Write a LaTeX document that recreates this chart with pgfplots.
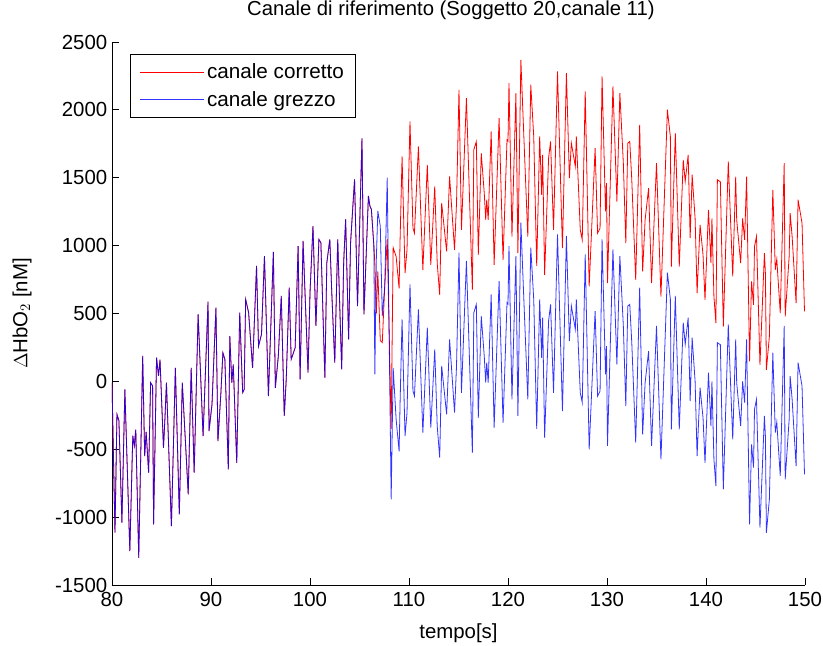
\documentclass[border=0pt]{standalone}
\usepackage{fontspec}
\setmainfont{Liberation Sans}
\usepackage{pgfplots}
\usepackage{pgfplotstable}
\pgfplotsset{compat=1.18}
\pgfplotstableread{
t b r
80.0 -10 -10
80.3 -1115 -1115
80.5 -243 -243
80.7 -290 -290
81.0 -1040 -1040
81.3 -60 -60
81.8 -1250 -1250
82.1 -400 -400
82.25 -475 -475
82.4 -355 -355
82.7 -1300 -1300
83.1 187 187
83.3 -550 -550
83.45 -373 -373
83.7 -673 -673
83.9 -10 -10
84.1 -34 -34
84.2 -1054 -1054
84.5 174 174
84.7 40 40
84.85 160 160
85.2 -490 -490
85.35 -268 -268
85.5 -10 -10
86.0 -1066 -1066
86.4 100 100
86.8 -980 -980
87.1 -10 -10
87.7 -832 -832
88.0 100 100
88.3 -673 -673
88.7 494 494
89.2 -403 -403
89.7 587 587
89.8 -366 -366
90.1 -170 -170
90.5 543 543
90.7 -440 -440
91.0 -84 -84
91.2 211 211
91.4 162 162
91.75 -648 -648
91.9 334 334
92.1 -10 -10
92.25 125 125
92.6 -600 -600
92.9 506 506
93.2 -83 -83
93.35 -59 -59
93.5 604 604
93.8 506 506
94.2 100 100
94.6 850 850
94.8 260 260
95.1 346 346
95.4 923 923
95.8 -108 -108
96.3 953 953
96.5 -47 -47
96.8 187 187
97.1 629 629
97.4 -255 -255
97.6 15 15
97.9 690 690
98.1 162 162
98.5 248 248
98.8 997 997
99.0 15 15
99.3 1034 1034
99.8 64 64
100.0 653 653
100.3 1144 1144
100.6 408 408
100.9 1046 1046
101.1 1020 1020
101.5 27 27
101.7 874 874
102.0 1046 1046
102.2 653 653
102.5 138 138
102.8 1046 1046
103.2 88 88
103.4 874 874
103.6 1194 1194
103.9 309 309
104.1 1022 1022
104.5 1488 1488
104.8 555 555
105.25 1790 1790
105.45 494 494
105.9 1366 1366
106.05 1292 1292
106.2 1267 1267
106.45 1000 1000
106.55 52 870
106.7 900 500
106.85 1255 810
107.1 1144 300
107.3 481 285
107.55 702 700
107.8 1500 1050
108.2 -870 -350
108.4 100 985
108.7 -280 920
109.0 -515 685
109.1 -157 1043
109.3 457 1657
109.6 -403 797
109.8 -231 969
110.1 715 1915
110.4 -71 1129
110.55 -108 1092
110.95 530 1730
111.4 -378 822
111.85 395 1595
112.2 -341 859
112.6 236 1436
112.85 -329 871
113.1 -562 638
113.3 113 1313
113.8 -243 957
114.1 309 1509
114.6 -231 969
114.8 113 1313
115.05 948 2148
115.3 -84 1116
115.8 887 2087
116.4 -525 675
116.55 506 1706
116.8 567 1767
117.0 -268 932
117.3 481 1681
117.6 187 1387
117.75 -10 1190
117.85 138 1338
118.0 -10 1190
118.3 641 1841
118.6 -341 859
119.1 739 1939
119.5 -305 895
119.9 580 1780
120.0 570 1770
120.1 997 2197
120.4 -133 1067
120.8 923 2123
121.0 -255 945
121.3 1169 2369
121.6 604 1804
122.0 -133 1067
122.3 985 2185
122.6 604 1804
122.9 -349 851
123.2 604 1804
123.4 174 1374
123.5 469 1669
123.7 -415 785
124.1 445 1645
124.3 567 1767
124.6 -84 1116
125.0 1083 2283
125.5 -219 981
125.9 1071 2271
126.2 297 1497
126.4 555 1755
126.8 383 1583
126.9 604 1804
127.3 -84 1116
127.5 -157 1043
127.8 936 2136
128.2 -501 699
128.8 518 1718
129.05 -108 1092
129.3 -71 1129
129.5 1046 2246
129.85 52 1252
129.95 260 1460
130.05 -476 724
130.6 973 2173
131.0 125 1325
131.3 923 2123
131.65 408 1608
131.9 -182 1018
132.1 555 1755
132.3 567 1767
132.5 290 1490
132.9 -452 748
133.3 690 1890
133.6 -390 810
133.85 -10 1190
134.2 223 1423
134.5 -476 724
135.0 408 1608
135.45 -575 625
136.1 801 2001
136.4 604 1804
136.5 -354 846
136.9 629 1829
137.3 -354 846
137.7 432 1632
137.9 273 1473
138.2 469 1669
138.4 -145 1055
138.6 322 1522
138.9 0 1200
139.1 -550 650
139.4 -47 1153
139.7 -268 932
139.9 -600 600
140.25 64 1264
140.5 -329 871
140.6 0 1200
140.8 -575 625
141.0 -771 429
141.15 285 1485
141.45 270 1470
141.75 -796 404
142.25 420 1620
142.7 -427 773
143.0 309 1509
143.1 -10 1190
143.5 -329 871
143.7 0 1200
143.9 -157 1043
144.1 309 1509
144.4 -1053 147
144.6 -464 736
144.8 -636 564
144.9 -206 994
145.1 -133 1067
145.45 -1078 122
145.9 -255 945
146.0 -403 797
146.1 -1115 85
146.4 -870 330
146.75 211 1411
147.0 -378 822
147.15 -300 900
147.5 -697 503
147.9 408 1608
148.0 -722 478
148.4 -280 920
148.5 39 1239
148.7 -133 1067
149.1 -624 576
149.3 138 1338
149.7 -34 1166
149.95 -685 515
}\datatab
\begin{document}
\begin{tikzpicture}
\begin{axis}[
  name=ax,
  scale only axis,
  width=519.75pt, height=407.25pt,
  xmin=80, xmax=150, ymin=-1500, ymax=2500,
  xtick={80,90,...,150},
  ytick={-1500,-1000,...,2500},
  axis lines*=left,
  axis line style={black, line width=0.6pt},
  tick align=inside,
  major tick length=5pt,
  tick style={black, line width=0.6pt},
  /pgf/number format/assume math mode=true,
  /pgf/number format/1000 sep={},
  ticklabel style={font=\fontsize{15.3}{18}\selectfont},
  yticklabel={\pgfmathprintnumber[assume math mode=true]{\tick}},
  xticklabel style={yshift=-2pt},
  title={Canale di riferimento (Soggetto 20,canale 11)},
  title style={font=\fontsize{15.2}{18}\selectfont, at={(axis description cs:0.489,1.0442)}, anchor=center},
  xlabel={tempo[s]},
  xlabel style={font=\fontsize{15.3}{18}\selectfont, at={(axis description cs:0.5,-0.0884)}, anchor=center},
  ylabel={$\Delta$HbO$_2$ [nM]},
  ylabel style={font=\fontsize{15.3}{18}\selectfont, at={(axis description cs:-0.1299,0.5)}, anchor=center},
  legend style={at={(0.026,0.978)}, anchor=north west, draw=black, line width=0.6pt,
    font=\fontsize{15.5}{18}\selectfont, inner xsep=7pt, inner ysep=5pt, row sep=4pt},
  legend cell align=left,
  legend image code/.code={\draw[#1, line width=0.5pt] (0pt,0pt) -- (48pt,0pt);},
]
\addplot[red, line width=0.6pt] table[x=t, y=r] {\datatab};
\addlegendentry{canale corretto}
\addplot[blue, line width=0.6pt, draw opacity=0.8] table[x=t, y=b] {\datatab};
\addlegendentry{canale grezzo}
\end{axis}
\pgfresetboundingbox
\path[use as bounding box] ([xshift=-84pt,yshift=-45.75pt]ax.south west) rectangle ([xshift=13.5pt,yshift=31.5pt]ax.north east);
\end{tikzpicture}
\end{document}
